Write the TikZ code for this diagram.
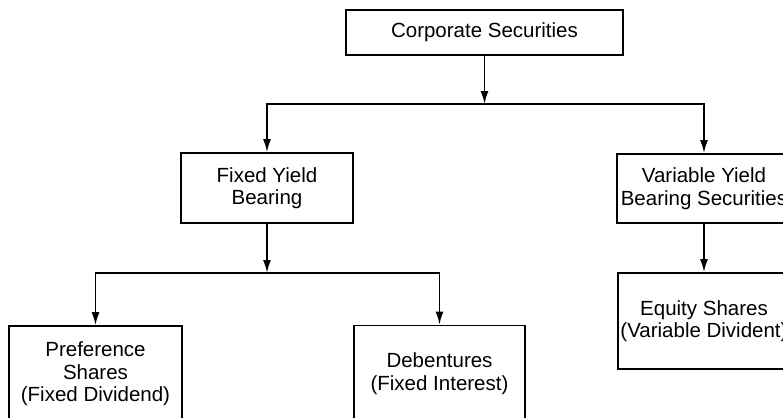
\documentclass[tikz,border=0pt]{standalone}
\usepackage{fontspec}
\setmainfont{Liberation Sans}
\usetikzlibrary{arrows.meta}

\begin{document}
\begin{tikzpicture}[x=0.5pt,y=-0.5pt,->,>={Latex[length=6.5pt,width=4pt]},line width=0.9pt,
                    box/.style={draw,rectangle,align=center,inner sep=0pt,
                                font=\fontsize{10.25}{11.2}\selectfont}]
  \useasboundingbox (0,0) rectangle (783,418);
  \clip (0,0) rectangle (783,418);

  \node[box,minimum width=138.5pt,minimum height=22.5pt] (corp)  at (484.5,32.5) {Corporate Securities};
  \node[box,minimum width=86pt,minimum height=35pt]      (fixed) at (267,188)    {Fixed Yield\\Bearing};
  \node[box,minimum width=87pt,minimum height=34.5pt]    (var)   at (704,188.5)  {Variable Yield\\Bearing Securities};
  \node[box,minimum width=86.5pt,minimum height=48pt]    (pref)  at (95.5,374)   {Preference\\Shares\\(Fixed Dividend)};
  \node[box,minimum width=85.5pt,minimum height=48pt]    (deb)   at (439.5,373.5) {Debentures\\(Fixed Interest)};
  \node[box,minimum width=86pt,minimum height=48pt]      (eq)    at (704,321)    {Equity Shares\\(Variable Divident)};

  \coordinate (j1) at (484.5,104);
  \coordinate (j2) at (267,273);

  \draw (corp) -- (j1);
  \draw (j1) -| (fixed);
  \draw (j1) -| (var);
  \draw (fixed) -- (j2);
  \draw (j2) -| (pref);
  \draw (j2) -| (deb);
  \draw (var) -- (eq);
\end{tikzpicture}
\end{document}
